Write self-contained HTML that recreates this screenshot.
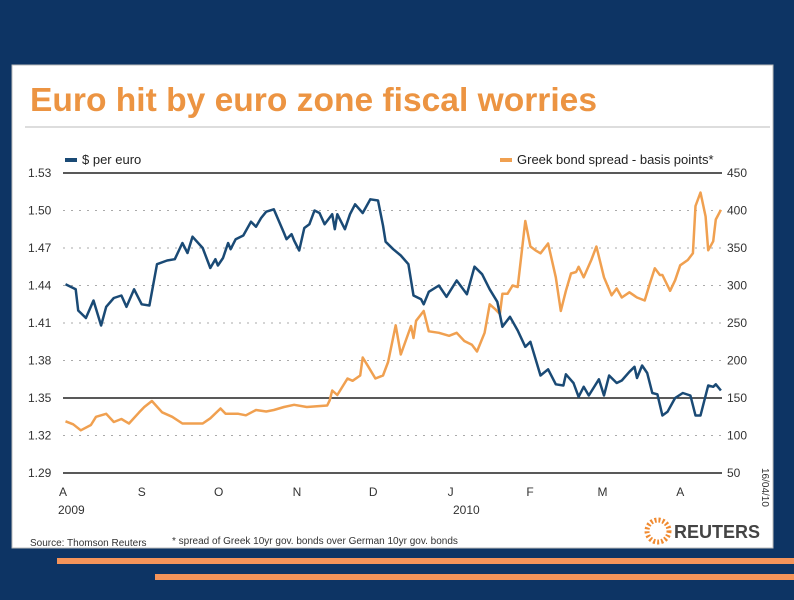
<!DOCTYPE html>
<html><head><meta charset="utf-8"><style>
body{margin:0;background:#0d3464;width:794px;height:595px;overflow:hidden;font-family:"Liberation Sans",sans-serif}
</style></head><body>
<svg width="794" height="595" xmlns="http://www.w3.org/2000/svg">
<rect x="0" y="0" width="794" height="595" fill="#0d3464"/>
<rect x="12" y="65" width="761" height="483" fill="#fff" stroke="#bbb"/>
<text x="30" y="111" font-size="33" font-weight="bold" fill="#ec9442" textLength="567" lengthAdjust="spacingAndGlyphs">Euro hit by euro zone fiscal worries</text>
<line x1="25" y1="127" x2="770" y2="127" stroke="#bbb"/>
<g id="grid"></g>
<g id="series"></g>
<rect x="65" y="158" width="12" height="4" fill="#1a4a75"/>
<text x="82" y="164" font-size="13" fill="#222">$ per euro</text>
<rect x="500" y="158" width="12" height="4" fill="#f0a050"/>
<text x="517" y="164" font-size="13" fill="#222">Greek bond spread - basis points*</text>
<g id="months"></g>
<text x="58" y="514" font-size="12" fill="#333">2009</text>
<text x="453" y="514" font-size="12" fill="#333">2010</text>
<text transform="translate(762,468) rotate(90)" font-size="10" fill="#333">16/04/10</text>
<text x="30" y="546" font-size="10" fill="#333">Source: Thomson Reuters</text>
<text x="172" y="544" font-size="10" fill="#333">* spread of Greek 10yr gov. bonds over German 10yr gov. bonds</text>
<g>
<circle cx="658" cy="531" r="11" fill="none" stroke="#f08a30" stroke-width="5" stroke-dasharray="2 2"/>
<text x="674" y="538" font-size="18" font-weight="bold" fill="#444">REUTERS</text>
</g>
<rect x="57" y="558" width="737" height="6" fill="#f4945a"/>
<rect x="155" y="574" width="639" height="6" fill="#f4945a"/>
</svg>
<script>
const leftTicks=[1.53,1.50,1.47,1.44,1.41,1.38,1.35,1.32,1.29];
const rightTicks=[450,400,350,300,250,200,150,100,50];
const months=["A","S","O","N","D","J","F","M","A"];
const monthDays=[0,31,61,92,122,153,184,212,243];
const usdDays=[1,5,6,9,12,15,17,20,23,25,28,31,34,37,41,44,47,49,51,55,58,60,61,63,65,66,68,71,74,76,78,80,83,87,88,90,91,93,95,97,99,101,103,106,107,108,111,113,115,118,121,124,126,127,130,133,136,138,141,142,144,148,151,155,159,162,165,168,171,173,176,179,182,184,188,191,194,197,198,201,203,205,207,211,213,215,218,220,223,225,226,228,230,232,234,236,238,241,244,247,249,251,254,256,257,259];
const usdVals=[1.441,1.437,1.420,1.414,1.428,1.408,1.423,1.430,1.432,1.423,1.437,1.425,1.424,1.457,1.460,1.461,1.474,1.466,1.479,1.470,1.454,1.461,1.456,1.462,1.474,1.469,1.477,1.480,1.491,1.487,1.494,1.499,1.501,1.482,1.477,1.481,1.476,1.468,1.486,1.489,1.500,1.498,1.489,1.497,1.485,1.497,1.485,1.497,1.505,1.498,1.509,1.508,1.488,1.475,1.469,1.464,1.457,1.432,1.429,1.425,1.435,1.440,1.431,1.444,1.433,1.455,1.449,1.437,1.427,1.407,1.415,1.404,1.391,1.395,1.368,1.373,1.361,1.360,1.369,1.362,1.351,1.359,1.352,1.365,1.352,1.368,1.362,1.364,1.371,1.375,1.366,1.376,1.370,1.354,1.353,1.336,1.339,1.350,1.354,1.352,1.336,1.336,1.360,1.359,1.361,1.356];
const spreadDays=[1,4,7,11,13,17,20,23,26,30,32,35,39,43,47,51,55,58,62,64,69,72,76,80,83,87,91,96,104,105,106,108,112,114,117,118,120,123,126,128,131,133,137,138,139,142,144,148,152,155,158,161,163,166,168,170,172,173,175,177,179,182,184,186,188,191,194,196,198,200,202,203,205,208,210,213,216,218,220,223,226,229,231,233,235,236,239,241,243,246,248,249,251,253,254,256,257,259];
const spreadVals=[119,115,107,114,125,129,118,122,116,131,138,146,131,125,116,116,116,123,136,129,129,127,134,132,134,138,141,138,140,147,160,154,176,173,180,204,193,176,180,198,247,208,246,230,253,266,239,237,233,237,226,221,212,237,275,269,262,289,289,300,298,386,352,347,343,356,311,266,293,316,318,325,311,334,352,311,287,296,284,291,284,280,302,323,314,314,293,307,327,334,343,406,424,392,347,359,388,401];
const X0=63,X1=722,Y0=173,Y1=473;
const xS=d=>X0+d*2.54;
const yL=v=>Y0+(1.53-v)/0.24*(Y1-Y0);
const yR=v=>Y0+(450-v)/400*(Y1-Y0);
const NS="http://www.w3.org/2000/svg";
const grid=document.getElementById('grid');
leftTicks.forEach((t,i)=>{
  const y=yL(t);const solid=(t===1.53||t===1.35||t===1.29);
  const l=document.createElementNS(NS,'line');
  l.setAttribute('x1',X0);l.setAttribute('x2',X1);l.setAttribute('y1',y);l.setAttribute('y2',y);
  l.setAttribute('stroke',solid?'#222':'#aaa');l.setAttribute('stroke-width',solid?1.5:1);
  if(!solid)l.setAttribute('stroke-dasharray','2 6');
  
  
  grid.appendChild(l);
  const a=document.createElementNS(NS,'text');
  a.setAttribute('x',28);a.setAttribute('y',y+4);a.setAttribute('font-size','12');a.setAttribute('fill','#333');
  a.textContent=t.toFixed(2);
  
  
  grid.appendChild(a);
  const b=document.createElementNS(NS,'text');
  b.setAttribute('x',727);b.setAttribute('y',yR(rightTicks[i])+4);b.setAttribute('font-size','12');b.setAttribute('fill','#333');
  b.textContent=rightTicks[i];
  
  
  grid.appendChild(b);
});
const mg=document.getElementById('months');
months.forEach((m,i)=>{
  const t=document.createElementNS(NS,'text');
  t.setAttribute('x',xS(monthDays[i])-4);t.setAttribute('y',496);t.setAttribute('font-size','12');t.setAttribute('fill','#333');
  t.textContent=m;
  
  
  mg.appendChild(t);
});
const sg=document.getElementById('series');
function line(days,vals,ys,color,name){
  const p=document.createElementNS(NS,'polyline');
  p.setAttribute('points',days.map((d,i)=>xS(d).toFixed(1)+','+ys(vals[i]).toFixed(1)).join(' '));
  p.setAttribute('fill','none');p.setAttribute('stroke',color);p.setAttribute('stroke-width','2.5');p.setAttribute('stroke-linejoin','round');
  
  
  sg.appendChild(p);
}
line(spreadDays,spreadVals,yR,'#f0a050','spread-line');
line(usdDays,usdVals,yL,'#1a4a75','usd-line');
</script>
</body></html>
